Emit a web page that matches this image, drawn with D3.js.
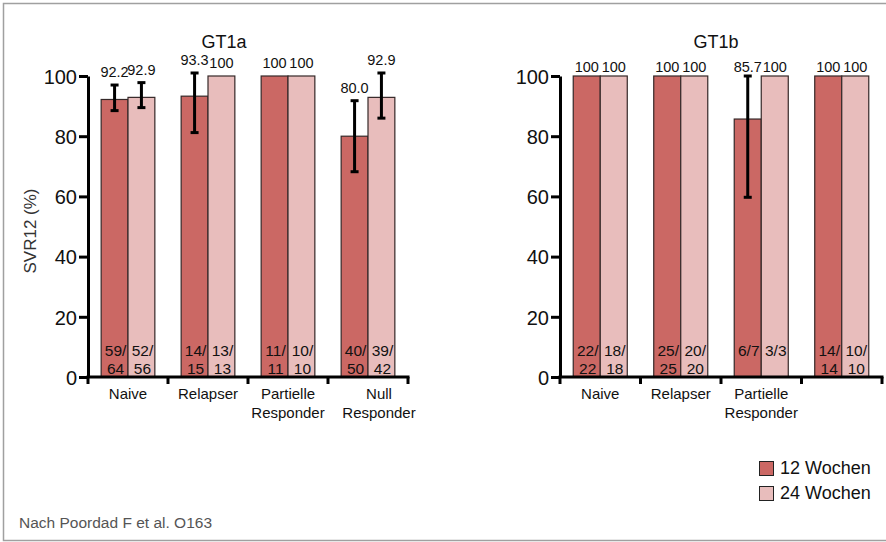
<!DOCTYPE html>
<html>
<head>
<meta charset="utf-8">
<script src="https://cdn.jsdelivr.net/npm/d3@7/dist/d3.min.js"></script>
<style>
  html, body { margin: 0; padding: 0; background: #fff; }
  svg { display: block; font-family: "Liberation Sans", Arial, Helvetica, sans-serif; }
</style>
</head>
<body>
<svg id="chart" width="886" height="542"></svg>
<script>
// ---- data ----
const series = ["12 Wochen", "24 Wochen"];
const categoriesA = ["Naive", "Relapser", "Partielle\nResponder", "Null\nResponder"];
const categoriesB = ["Naive", "Relapser", "Partielle\nResponder", ""];
const yTicks = [0, 20, 40, 60, 80, 100];

const gt1a12 = [92.2, 93.3, 100, 80.0];
const gt1a24 = [92.9, 100, 100, 92.9];
const gt1a12Lo = [88.5, 81.2, null, 68.2];
const gt1a12Hi = [97.0, 101.0, null, 91.8];
const gt1a24Lo = [89.5, null, null, 86.0];
const gt1a24Hi = [97.8, null, null, 101.0];
const gt1a12N = ["59/64", "14/15", "11/11", "40/50"];
const gt1a24N = ["52/56", "13/13", "10/10", "39/42"];

const gt1b12 = [100, 100, 85.7, 100];
const gt1b24 = [100, 100, 100, 100];
const gt1b12Lo = [null, null, 59.7, null];
const gt1b12Hi = [null, null, 100, null];
const gt1b24Lo = [null, null, null, null];
const gt1b24Hi = [null, null, null, null];
const gt1b12N = ["22/22", "25/25", "6/7", "14/14"];
const gt1b24N = ["18/18", "20/20", "3/3", "10/10"];

// ---- style ----
const colors = ["#cb6864", "#e8bdbc"];
const svg = d3.select("#chart");

// frame
svg.append("rect").attr("x", 3.5).attr("y", 3.5).attr("width", 900).attr("height", 537)
  .attr("fill", "none").attr("stroke", "#a0a0a0").attr("stroke-width", 1.5);

const y = d3.scaleLinear().domain([0, 100]).range([377, 76]);

function buildRows(cats, v12, v24, lo12, hi12, lo24, hi24, n12, n24) {
  return cats.map((c, i) => ({
    cat: c,
    bars: [
      { s: series[0], v: v12[i], lo: lo12[i], hi: hi12[i], n: n12[i] },
      { s: series[1], v: v24[i], lo: lo24[i], hi: hi24[i], n: n24[i] }
    ]
  }));
}

function panel(opts) {
  const { rows, x0r, title, titleX, yLabel, lastLabelDx, labelGap } = opts;
  const g = svg.append("g");
  const x0 = d3.scaleBand().domain(rows.map((d, i) => i)).range(x0r).padding(0);
  const x1 = d3.scaleBand().domain(series).range([0, x0.bandwidth()]).paddingOuter(0.49).paddingInner(0);

  // bars
  const grp = g.selectAll("g.grp").data(rows).join("g")
    .attr("transform", (d, i) => `translate(${x0(i)},0)`);

  grp.selectAll("rect").data(d => d.bars).join("rect")
    .attr("x", d => x1(d.s))
    .attr("y", d => y(d.v))
    .attr("width", x1.bandwidth())
    .attr("height", d => y(0) - y(d.v))
    .attr("fill", (d, i) => colors[i])
    .attr("stroke", "#352828")
    .attr("stroke-width", 1.2);

  // error bars
  const eb = grp.selectAll("g.eb").data(d => d.bars.filter(b => b.lo != null)).join("g");
  eb.append("line")
    .attr("x1", d => x1(d.s) + x1.bandwidth() / 2).attr("x2", d => x1(d.s) + x1.bandwidth() / 2)
    .attr("y1", d => y(d.lo)).attr("y2", d => y(d.hi))
    .attr("stroke", "#000").attr("stroke-width", 3);
  eb.selectAll("line.cap").data(d => [[d, d.lo], [d, d.hi]]).join("line")
    .attr("x1", d => x1(d[0].s) + x1.bandwidth() / 2 - 4).attr("x2", d => x1(d[0].s) + x1.bandwidth() / 2 + 4)
    .attr("y1", d => y(d[1])).attr("y2", d => y(d[1]))
    .attr("stroke", "#000").attr("stroke-width", 3);

  // value labels
  grp.selectAll("text.val").data(d => d.bars).join("text")
    .attr("x", d => x1(d.s) + x1.bandwidth() / 2)
    .attr("y", d => y(Math.max(d.v, d.hi == null ? d.v : d.hi)) - labelGap)
    .attr("text-anchor", "middle").attr("font-size", 14.5).attr("fill", "#111")
    .text(d => d.v === 100 ? "100" : d.v.toFixed(1));

  // count labels
  const cnt = grp.selectAll("text.cnt").data(d => d.bars).join("text")
    .attr("text-anchor", "middle").attr("font-size", 15.5).attr("fill", "#111");
  cnt.each(function(d) {
    const t = d3.select(this);
    const cx = x1(d.s) + x1.bandwidth() / 2 + 1;
    const lines = d.n.length > 3 ? [d.n.slice(0, d.n.indexOf("/") + 1), d.n.slice(d.n.indexOf("/") + 1)] : [d.n];
    lines.forEach((l, k) => {
      t.append("tspan").attr("x", cx).attr("y", y(0) - 21 + k * 18).text(l);
    });
  });

  // y axis
  const ya = g.append("g").attr("transform", `translate(${x0r[0]},0)`)
    .call(d3.axisLeft(y).tickValues(yTicks).tickSize(9).tickSizeOuter(0).tickPadding(2));
  ya.select(".domain").attr("stroke", "#000").attr("stroke-width", 3);
  ya.selectAll(".tick line").attr("stroke", "#000").attr("stroke-width", 3);
  ya.selectAll(".tick text").attr("font-size", 20).attr("fill", "#111")
    .attr("font-family", "'Liberation Sans', Arial, sans-serif").attr("dy", "0.36em");

  // x axis (ticks at group boundaries)
  const bounds = rows.map((d, i) => x0(i)).concat([x0r[1]]);
  g.append("line").attr("x1", x0r[0] - 1.5).attr("x2", x0r[1] + 1.5)
    .attr("y1", y(0)).attr("y2", y(0)).attr("stroke", "#000").attr("stroke-width", 3);
  g.selectAll("line.xt").data(bounds).join("line")
    .attr("x1", d => d).attr("x2", d => d).attr("y1", y(0)).attr("y2", y(0) + 7)
    .attr("stroke", "#000").attr("stroke-width", 3);

  // category labels
  const cl = g.selectAll("text.cat").data(rows).join("text")
    .attr("text-anchor", "middle").attr("font-size", 15).attr("fill", "#111");
  cl.each(function(d, i) {
    const t = d3.select(this);
    const dx = (i === rows.length - 1) ? lastLabelDx : 0;
    d.cat.split("\n").forEach((l, k) => {
      t.append("tspan").attr("x", x0(i) + x0.bandwidth() / 2 + dx).attr("y", y(0) + 22 + k * 19).text(l);
    });
  });

  // title
  g.append("text").attr("x", titleX).attr("y", 48).attr("text-anchor", "middle")
    .attr("font-size", 18).attr("fill", "#111").text(title);

  if (yLabel) {
    g.append("text").attr("transform", `translate(36,231) rotate(-90)`)
      .attr("text-anchor", "middle").attr("font-size", 17).attr("fill", "#333").text(yLabel);
  }
}

panel({
  rows: buildRows(categoriesA, gt1a12, gt1a24, gt1a12Lo, gt1a12Hi, gt1a24Lo, gt1a24Hi, gt1a12N, gt1a24N),
  x0r: [88, 408], title: "GT1a", titleX: 224, yLabel: "SVR12 (%)", lastLabelDx: 11, labelGap: 8
});
panel({
  rows: buildRows(categoriesB, gt1b12, gt1b24, gt1b12Lo, gt1b12Hi, gt1b24Lo, gt1b24Hi, gt1b12N, gt1b24N),
  x0r: [560, 882], title: "GT1b", titleX: 716, yLabel: null, lastLabelDx: 0, labelGap: 4.5
});

// legend
const lg = svg.append("g").attr("transform", "translate(759,461)");
series.forEach((s, i) => {
  lg.append("rect").attr("x", 0.5).attr("y", i * 25 + 0.5).attr("width", 14).attr("height", 14)
    .attr("fill", colors[i]).attr("stroke", "#222").attr("stroke-width", 1);
  lg.append("text").attr("x", 21).attr("y", i * 25 + 13).attr("font-size", 18).attr("fill", "#111").text(s);
});

// source
svg.append("text").attr("x", 19).attr("y", 528).attr("font-size", 15.5).attr("fill", "#555")
  .text("Nach Poordad F et al. O163");
</script>
</body>
</html>
